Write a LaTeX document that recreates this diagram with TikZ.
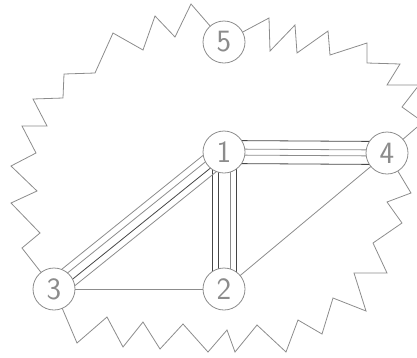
\documentclass[tikz,border=0pt]{standalone}
\usetikzlibrary{backgrounds, calc}
\definecolor{wirecol}{RGB}{140,140,140}
\definecolor{darkcol}{RGB}{70,70,70}

\begin{document}
\begin{tikzpicture}[
  x=1pt, y=-1pt,
  vertex/.style={circle, draw=wirecol, fill=white, line width=0.8pt,
                 minimum size=42pt, inner sep=0pt,
                 font=\fontsize{31}{31}\sffamily, text=wirecol},
  zig/.style={draw=wirecol, line width=0.8pt, line join=miter},
  link/.style={draw=wirecol, line width=0.8pt}
]
  \useasboundingbox (0,0) rectangle (417,357);
  \node[vertex] (n1) at (224,152) {1};
  \node[vertex] (n2) at (224,289) {2};
  \node[vertex] (n3) at (54,289) {3};
  \node[vertex] (n4) at (387,153) {4};
  \node[vertex] (n5) at (224,42) {5};
  \begin{scope}[on background layer]
    \draw[zig] (n5.center) -- (269,18) -- (270,51) -- (295,25) -- (297,53)
      -- (328,31) -- (330,55) -- (367,43) -- (367,63) -- (400,64) -- (387,85)
      -- (419,85) -- (402,107) -- (423,122) -- (n4.center) -- (411,193)
      -- (387,202) -- (402,223) -- (373,243) -- (387,273) -- (354,273)
      -- (366,311) -- (333,298) -- (322,334) -- (298,320) -- (286,352)
      -- (257,325) -- (235,352) -- (227,330) -- (208,352) -- (183,324)
      -- (160,349) -- (143,322) -- (123,347) -- (107,317) -- (77,343)
      -- (n3.center) -- (22,248) -- (40,233) -- (11,203) -- (37,191)
      -- (11,166) -- (36,153) -- (22,126) -- (47,126) -- (33,99) -- (63,98)
      -- (64,74) -- (95,73) -- (113,33) -- (143,50) -- (155,16) -- (175,37)
      -- (191,4) -- cycle;
    \draw[link] (n3.center) -- (n2.center);
    \draw[link] (n2.center) -- (n4.center);
    \foreach \a/\b/\o/\c in {n1/n4/-11.5/darkcol, n1/n4/-3/wirecol, n1/n4/3/wirecol, n1/n4/11.5/darkcol,
                             n1/n2/-12/darkcol, n1/n2/-6/darkcol, n1/n2/6/wirecol, n1/n2/12/darkcol,
                             n3/n1/-10.5/wirecol, n3/n1/-4/darkcol, n3/n1/4/wirecol, n3/n1/10.5/wirecol}
      \draw[link, draw=\c] ($(\a.center)!\o pt!90:(\b.center)$) -- ($(\b.center)!\o pt!-90:(\a.center)$);
  \end{scope}
\end{tikzpicture}
\end{document}
